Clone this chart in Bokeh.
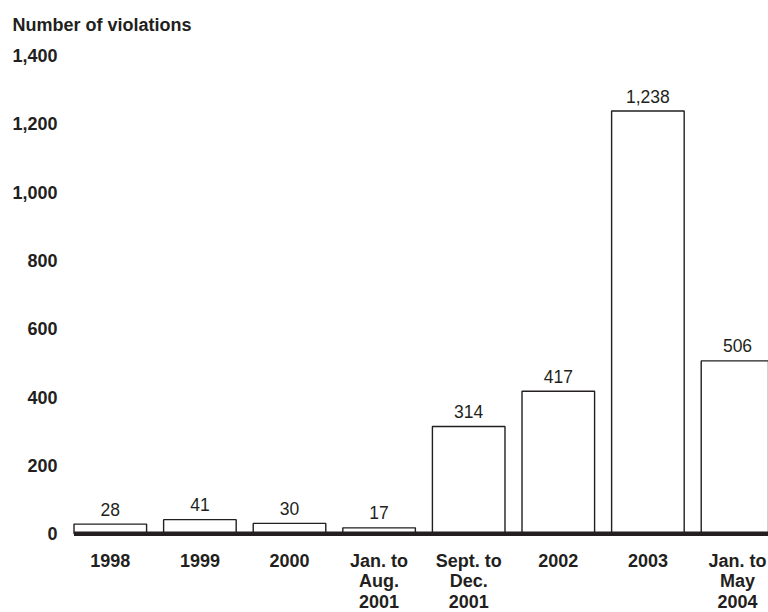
from bokeh.plotting import figure
from bokeh.models import Range1d, FixedTicker, Title, ColumnDataSource
from bokeh.core.properties import value
from bokeh.embed import file_html
from bokeh.resources import INLINE

categories = ["1998", "1999", "2000", "Jan. to\nAug.\n2001", "Sept. to\nDec.\n2001",
              "2002", "2003", "Jan. to\nMay\n2004"]
values = [28, 41, 30, 17, 314, 417, 1238, 506]
value_labels = ["28", "41", "30", "17", "314", "417", "1,238", "506"]
y_ticks = [0, 200, 400, 600, 800, 1000, 1200, 1400]
y_tick_labels = ["0", "200", "400", "600", "800", "1,000", "1,200", "1,400"]

xs = list(range(len(categories)))
bar_width = 0.81
FONT = "Liberation Sans"
INK = "#231f20"

src = ColumnDataSource(dict(x=xs, top=values, lab=value_labels))

# category labels, one row per text line
cx, ct, coff = [], [], []
for x, c in zip(xs, categories):
    for i, line in enumerate(c.split("\n")):
        cx.append(x)
        ct.append(line)
        coff.append(27 + 20.5 * i)
csrc = ColumnDataSource(dict(x=cx, y=[0] * len(cx), t=ct, off=coff))

p = figure(width=768, height=612,
           x_range=Range1d(-0.5, 7.346), y_range=Range1d(-231, 1427),
           output_backend="svg", toolbar_location=None,
           min_border_left=65, min_border_right=0, min_border_top=45,
           min_border_bottom=0, x_axis_location=None)
p.title = None
p.add_layout(Title(text="Number of violations", align="left", offset=-53,
                   standoff=24,
                   text_font=FONT, text_font_size="18px", text_font_style="bold",
                   text_color=INK), "above")

p.vbar(x="x", top="top", bottom=0, width=bar_width, source=src,
       fill_color="white", line_color=INK, line_width=1.4)
p.segment(x0=[xs[0] - bar_width / 2], x1=[xs[-1] + bar_width / 2], y0=[0], y1=[0],
          line_color=INK, line_width=4.5)
p.text(x="x", y="top", text="lab", source=src, text_align="center",
       text_baseline="alphabetic", y_offset=-15, text_font=value(FONT),
       text_font_size="17.5px", text_color=INK)
p.text(x="x", y="y", text="t", source=csrc, y_offset="off", text_align="center",
       text_baseline="alphabetic", text_font=value(FONT), text_font_size="18px",
       text_font_style="bold", text_color=INK)

p.xgrid.visible = False
p.ygrid.visible = False
p.outline_line_color = None
p.background_fill_color = "white"
p.border_fill_color = "white"

ay = p.yaxis[0]
ay.ticker = FixedTicker(ticks=y_ticks)
ay.major_label_overrides = {t: l for t, l in zip(y_ticks, y_tick_labels)}
ay.axis_line_color = None
ay.major_tick_line_color = None
ay.minor_tick_line_color = None
ay.major_tick_out = 0
ay.major_tick_in = 0
ay.major_label_standoff = 8
ay.major_label_text_font = FONT
ay.major_label_text_font_size = "18px"
ay.major_label_text_font_style = "bold"
ay.major_label_text_color = INK

open("out.html", "w").write(file_html(p, INLINE))
